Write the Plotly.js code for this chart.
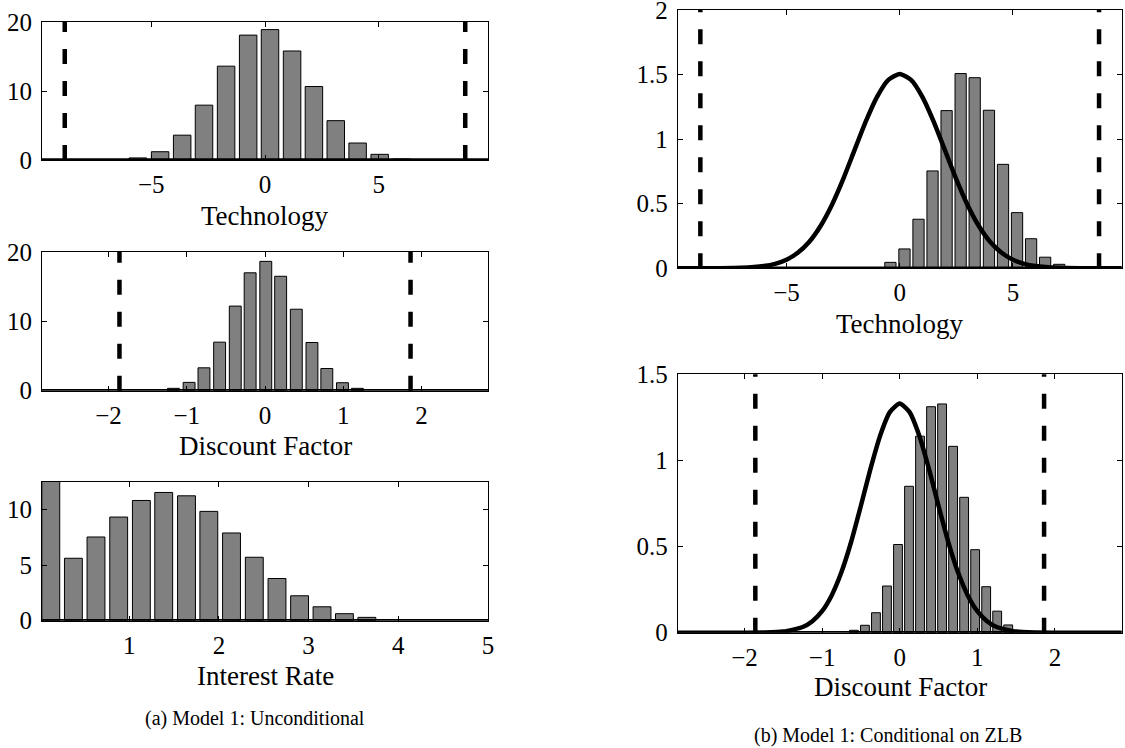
<!DOCTYPE html>
<html>
<head>
<meta charset="utf-8">
<script src="https://cdn.plot.ly/plotly-3.0.1.min.js"></script>
<style>html,body{margin:0;padding:0;background:#fff;}#chart{width:1125px;height:748px;}</style>
</head>
<body>
<div id="chart"></div>
<script>
// ---- Data ----
// (a) Model 1: Unconditional
const techBinsA = [-5.59, -4.61, -3.64, -2.68, -1.71, -0.74, 0.22, 1.19, 2.15, 3.11, 4.07, 5.04, 6.0];
const techFreqA = [0.3, 1.2, 3.6, 7.95, 13.6, 18.1, 18.9, 15.8, 10.65, 5.7, 2.46, 0.82, 0.15];
const discBinsA = [-1.17, -0.97, -0.78, -0.58, -0.38, -0.19, 0.01, 0.2, 0.4, 0.6, 0.79, 0.99, 1.18];
const discFreqA = [0.34, 1.2, 3.3, 7.0, 12.2, 17.0, 18.65, 16.5, 11.75, 6.95, 3.2, 1.15, 0.34];
const rateBins = [0.126, 0.378, 0.63, 0.883, 1.136, 1.385, 1.639, 1.888, 2.141, 2.395, 2.648, 2.9, 3.15, 3.4, 3.65];
const rateFreq = [13.5, 5.61, 7.52, 9.31, 10.8, 11.52, 11.22, 9.82, 7.88, 5.7, 3.79, 2.24, 1.25, 0.63, 0.3];

// (b) Model 1: Conditional on ZLB
const techBinsB = [-0.41, 0.21, 0.83, 1.45, 2.07, 2.69, 3.31, 3.94, 4.56, 5.18, 5.8, 6.42, 7.04];
const techDensB = [0.046, 0.15, 0.38, 0.754, 1.221, 1.508, 1.476, 1.224, 0.805, 0.431, 0.229, 0.086, 0.031];
const discBinsB = [-0.59, -0.448, -0.306, -0.164, -0.022, 0.12, 0.262, 0.404, 0.546, 0.688, 0.83, 0.972, 1.114, 1.256, 1.398];
const discDensB = [0.014, 0.043, 0.116, 0.271, 0.512, 0.85, 1.141, 1.312, 1.328, 1.082, 0.786, 0.482, 0.267, 0.125, 0.045];

// unconditional (solid) curves
const techPriorX = [-9.8, -8, -7, -6, -5.5, -5, -4.5, -4, -3.5, -3, -2.5, -2, -1.5, -1, -0.5, 0, 0.5, 1, 1.5, 2, 2.5, 3, 3.5, 4, 4.5, 5, 5.5, 6, 7, 8, 9.8];
const techPriorY = [0, 0.0005, 0.0033, 0.017, 0.034, 0.066, 0.12, 0.204, 0.326, 0.489, 0.689, 0.913, 1.136, 1.328, 1.459, 1.505, 1.459, 1.328, 1.136, 0.913, 0.689, 0.489, 0.326, 0.204, 0.12, 0.066, 0.034, 0.017, 0.0033, 0.0005, 0];
const discPriorX = [-2.86, -2.0, -1.75, -1.5, -1.25, -1.125, -1.0, -0.875, -0.75, -0.625, -0.5, -0.375, -0.25, -0.125, 0, 0.125, 0.25, 0.375, 0.5, 0.625, 0.75, 0.875, 1.0, 1.125, 1.25, 1.5, 1.75, 2.0, 2.86];
const discPriorY = [0, 0.0001, 0.001, 0.0065, 0.033, 0.067, 0.125, 0.218, 0.352, 0.528, 0.737, 0.954, 1.147, 1.282, 1.33, 1.282, 1.147, 0.954, 0.737, 0.528, 0.352, 0.218, 0.125, 0.067, 0.033, 0.0065, 0.001, 0.0001, 0];

// dashed bounds
const techBounds = [-8.8, 8.8];
const discBounds = [-1.86, 1.86];

// tick labels
const techTicks = [-5, 0, 5];
const discTicks = [-2, -1, 0, 1, 2];
const rateTicks = [1, 2, 3, 4, 5];
const freqTicks = [0, 10, 20];
const rateFreqTicks = [0, 5, 10];
const densTicksTech = [0, 0.5, 1, 1.5, 2];
const densTicksDisc = [0, 0.5, 1, 1.5];

const xLabels = ['Technology', 'Discount Factor', 'Interest Rate', 'Technology', 'Discount Factor'];
const captions = ['(a) Model 1: Unconditional', '(b) Model 1: Conditional on ZLB'];

// ---- Styling ----
const W = 1125, H = 748;
const FONT = 'Liberation Serif, Times New Roman, serif';
const barStyle = {color: '#808080', line: {color: '#000', width: 1}};
const fy = px => 1 - px / H;
const fx = px => px / W;

function bars(x, y, ax) {
  return {type: 'bar', x: x, y: y, marker: barStyle, xaxis: 'x' + ax, yaxis: 'y' + ax, hoverinfo: 'skip', showlegend: false};
}
function curve(x, y, ax) {
  return {type: 'scatter', mode: 'lines', x: x, y: y, line: {color: '#000', width: 4.5, shape: 'spline', smoothing: 0.6},
          xaxis: 'x' + ax, yaxis: 'y' + ax, hoverinfo: 'skip', showlegend: false};
}

const data = [
  bars(techBinsA, techFreqA, ''),
  bars(discBinsA, discFreqA, '2'),
  bars(rateBins, rateFreq, '3'),
  bars(techBinsB, techDensB, '4'),
  curve(techPriorX, techPriorY, '4'),
  bars(discBinsB, discDensB, '5'),
  curve(discPriorX, discPriorY, '5')
];

function xAx(dom, range, ticks, anchor) {
  return {domain: dom, range: range, tickvals: ticks, ticks: 'inside', ticklen: 5, tickcolor: '#000',
          showline: true, mirror: 'ticks', linecolor: '#000', linewidth: 1, showgrid: false, zeroline: false,
          anchor: anchor, ticklabelstandoff: 2, ticklabeloverflow: 'allow', tickfont: {family: FONT, size: 25, color: '#000'}};
}
function yAx(dom, range, ticks, anchor) {
  return {domain: dom, range: range, tickvals: ticks, ticks: 'inside', ticklen: 5, tickcolor: '#000',
          showline: true, mirror: 'ticks', linecolor: '#000', linewidth: 1, showgrid: false, zeroline: false,
          anchor: anchor, ticklabelstandoff: 4, ticklabeloverflow: 'allow', tickfont: {family: FONT, size: 25, color: '#000'}};
}

const LX = [fx(42), fx(488)];
const RX = [fx(677.7), fx(1121.7)];
const P1 = [fy(160), fy(22)];
const P2 = [fy(390.7), fy(252)];
const P3 = [fy(620.7), fy(482)];
const R1 = [fy(268.3), fy(10)];
const R2 = [fy(632.7), fy(374.3)];

const layout = {
  width: W, height: H,
  margin: {l: 0, r: 0, t: 0, b: 0, pad: 0},
  paper_bgcolor: '#fff', plot_bgcolor: '#fff',
  font: {family: FONT, size: 25, color: '#000'},
  bargap: 0.2,
  showlegend: false,
  xaxis: xAx(LX, [-9.8, 9.8], techTicks, 'y'),
  yaxis: yAx(P1, [0, 20.001], freqTicks, 'x'),
  xaxis2: xAx(LX, [-2.85, 2.85], discTicks, 'y2'),
  yaxis2: yAx(P2, [0, 20.001], freqTicks, 'x2'),
  xaxis3: xAx(LX, [0.028, 5.0005], rateTicks, 'y3'),
  yaxis3: yAx(P3, [0, 12.46], rateFreqTicks, 'x3'),
  xaxis4: xAx(RX, [-9.8, 9.8], techTicks, 'y4'),
  yaxis4: yAx(R1, [0, 2.0002], densTicksTech, 'x4'),
  xaxis5: xAx(RX, [-2.86, 2.86], discTicks, 'y5'),
  yaxis5: yAx(R2, [0, 1.5002], densTicksDisc, 'x5'),
  shapes: [],
  annotations: []
};

// dashed bound lines
const boundSpec = [[techBounds, 'x', 'y'], [discBounds, 'x2', 'y2'], [techBounds, 'x4', 'y4'], [discBounds, 'x5', 'y5']];
boundSpec.forEach(([bs, xr, yr]) => bs.forEach(b => layout.shapes.push({
  type: 'line', xref: xr, yref: yr + ' domain', x0: b, x1: b, y0: 0, y1: 1,
  line: {color: '#000', width: 4.5, dash: '15px,17px'}, layer: 'above'
})));
// thick baselines
[['x', 'y'], ['x2', 'y2'], ['x3', 'y3'], ['x4', 'y4'], ['x5', 'y5']].forEach(([xr, yr]) => layout.shapes.push({
  type: 'line', xref: xr + ' domain', yref: yr, x0: 0, x1: 1, y0: 0, y1: 0,
  line: {color: '#000', width: 3.5}, layer: 'above'
}));

// axis titles
const titlePos = [[265, 216], [265, 446], [265, 676], [900, 324], [900, 687]];
xLabels.forEach((t, i) => layout.annotations.push({
  text: t, xref: 'paper', yref: 'paper', x: fx(titlePos[i][0]), y: fy(titlePos[i][1]),
  xanchor: 'center', yanchor: 'middle', showarrow: false, font: {family: FONT, size: 27, color: '#000'}
}));
// captions
const capPos = [[255, 718], [887.5, 735]];
captions.forEach((t, i) => layout.annotations.push({
  text: t, xref: 'paper', yref: 'paper', x: fx(capPos[i][0]), y: fy(capPos[i][1]),
  xanchor: 'center', yanchor: 'middle', showarrow: false, font: {family: FONT, size: 20, color: '#000'}
}));

Plotly.newPlot('chart', data, layout, {staticPlot: true, displayModeBar: false});
</script>
</body>
</html>
